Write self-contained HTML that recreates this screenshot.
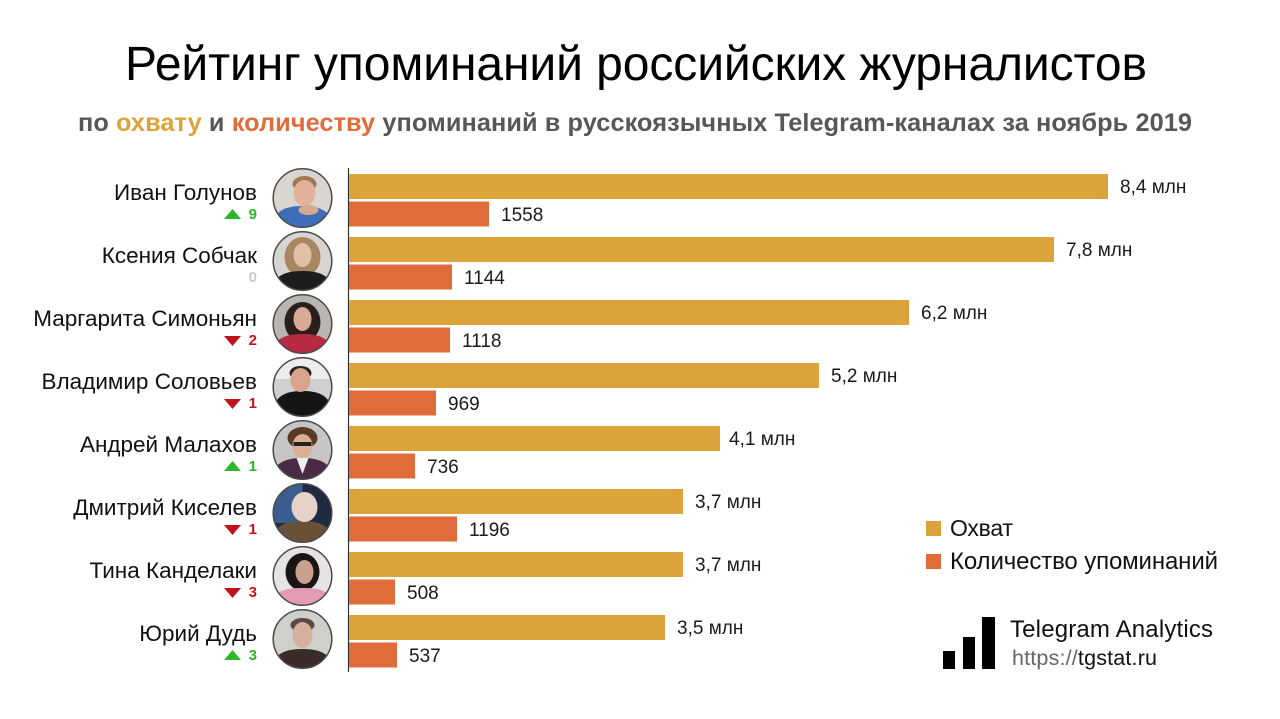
<!DOCTYPE html>
<html><head><meta charset="utf-8"><style>
html,body{margin:0;padding:0;background:#fff;}
svg{display:block;}
text{font-family:"Liberation Sans","DejaVu Sans",sans-serif;}
</style></head><body>
<svg width="1280" height="719" viewBox="0 0 1280 719" xmlns="http://www.w3.org/2000/svg">
<defs>
<clipPath id="cc"><circle cx="0" cy="0" r="29"/></clipPath>
</defs>
<rect width="1280" height="719" fill="#fff"/>

<text x="125" y="80" font-size="48" fill="#000" textLength="1022">Рейтинг упоминаний российских журналистов</text>
<text x="78" y="131" font-size="25.3" font-weight="bold" fill="#575757" textLength="1114">по <tspan fill="#DCA33B">охвату</tspan> и <tspan fill="#DF6C3A">количеству</tspan> упоминаний в русскоязычных Telegram-каналах за ноябрь 2019</text>

<line x1="348.5" y1="168" x2="348.5" y2="672" stroke="#333" stroke-width="1.2"/>

<!-- bars -->
<g fill="#DCA33B">
<rect x="349" y="174" width="759" height="25"/>
<rect x="349" y="237" width="705" height="25"/>
<rect x="349" y="300" width="560" height="25"/>
<rect x="349" y="363" width="470" height="25"/>
<rect x="349" y="426" width="371" height="25"/>
<rect x="349" y="489" width="334" height="25"/>
<rect x="349" y="552" width="334" height="25"/>
<rect x="349" y="615" width="316" height="25"/>
</g>
<g fill="#DF6C3A">
<rect x="349" y="201.5" width="140" height="25"/>
<rect x="349" y="264.5" width="103" height="25"/>
<rect x="349" y="327.5" width="101" height="25"/>
<rect x="349" y="390.5" width="87" height="25"/>
<rect x="349" y="453.5" width="66" height="25"/>
<rect x="349" y="516.5" width="108" height="25"/>
<rect x="349" y="579.5" width="46" height="25"/>
<rect x="349" y="642.5" width="48" height="25"/>
</g>

<g font-size="19" fill="#1a1a1a">
<text x="1120" y="193">8,4 млн</text>
<text x="1066" y="256">7,8 млн</text>
<text x="921" y="319">6,2 млн</text>
<text x="831" y="382">5,2 млн</text>
<text x="729" y="445">4,1 млн</text>
<text x="695" y="508">3,7 млн</text>
<text x="695" y="571">3,7 млн</text>
<text x="677" y="634">3,5 млн</text>
<text x="501" y="221">1558</text>
<text x="464" y="284">1144</text>
<text x="462" y="347">1118</text>
<text x="448" y="410">969</text>
<text x="427" y="473">736</text>
<text x="469" y="536">1196</text>
<text x="407" y="599">508</text>
<text x="409" y="662">537</text>
</g>

<!-- names -->
<g font-size="22.5" fill="#111" text-anchor="end">
<text x="257" y="200">Иван Голунов</text>
<text x="257" y="263">Ксения Собчак</text>
<text x="257" y="326">Маргарита Симоньян</text>
<text x="257" y="389">Владимир Соловьев</text>
<text x="257" y="452">Андрей Малахов</text>
<text x="257" y="515">Дмитрий Киселев</text>
<text x="257" y="578">Тина Канделаки</text>
<text x="257" y="641">Юрий Дудь</text>
</g>

<!-- change indicators -->
<g font-size="15" font-weight="bold" text-anchor="end">
<polygon points="224,219 241,219 232.5,209" fill="#2DB52D"/><text x="257" y="219" fill="#2DB52D">9</text>
<text x="257" y="282" fill="#c8c8c8">0</text>
<polygon points="224,336 241,336 232.5,346" fill="#C0141C"/><text x="257" y="345" fill="#C0141C">2</text>
<polygon points="224,399 241,399 232.5,409" fill="#C0141C"/><text x="257" y="408" fill="#C0141C">1</text>
<polygon points="224,471 241,471 232.5,461" fill="#2DB52D"/><text x="257" y="471" fill="#2DB52D">1</text>
<polygon points="224,525 241,525 232.5,535" fill="#C0141C"/><text x="257" y="534" fill="#C0141C">1</text>
<polygon points="224,588 241,588 232.5,598" fill="#C0141C"/><text x="257" y="597" fill="#C0141C">3</text>
<polygon points="224,660 241,660 232.5,650" fill="#2DB52D"/><text x="257" y="660" fill="#2DB52D">3</text>
</g>

<!-- photos -->
<g transform="translate(302.5,198)">
<g clip-path="url(#cc)">
<rect x="-30" y="-30" width="60" height="60" fill="#d9d6d2"/>
<path d="M-32,32 C-30,12 -16,8 0,8 C16,8 30,12 32,32 Z" fill="#3f6db8"/>
<ellipse cx="2" cy="-14" rx="12" ry="8" fill="#a07a55"/>
<ellipse cx="2" cy="-5" rx="11" ry="13" fill="#e0b39a"/>
<ellipse cx="6" cy="12" rx="10" ry="5" fill="#d8a88e"/>
</g>
<circle r="29.3" fill="none" stroke="#4a4a4a" stroke-width="1.5"/>
</g>

<g transform="translate(302.5,261)">
<g clip-path="url(#cc)">
<rect x="-30" y="-30" width="60" height="60" fill="#d8d5d0"/>
<ellipse cx="0" cy="-4" rx="18" ry="20" fill="#a88662"/>
<path d="M-32,32 C-30,14 -16,10 0,10 C16,10 30,14 32,32 Z" fill="#1e1c1c"/>
<ellipse cx="0" cy="-6" rx="9" ry="12" fill="#e3bfa6"/>
</g>
<circle r="29.3" fill="none" stroke="#4a4a4a" stroke-width="1.5"/>
</g>

<g transform="translate(302.5,324)">
<g clip-path="url(#cc)">
<rect x="-30" y="-30" width="60" height="60" fill="#b9b5b3"/>
<ellipse cx="0" cy="-2" rx="18" ry="20" fill="#2a1f1c"/>
<path d="M-32,32 C-30,14 -16,10 0,10 C16,10 30,14 32,32 Z" fill="#b82a42"/>
<ellipse cx="0" cy="-5" rx="9" ry="12" fill="#d8aa96"/>
</g>
<circle r="29.3" fill="none" stroke="#4a4a4a" stroke-width="1.5"/>
</g>

<g transform="translate(302.5,387)">
<g clip-path="url(#cc)">
<rect x="-30" y="-30" width="60" height="60" fill="#cfcfcf"/>
<rect x="-30" y="-30" width="60" height="22" fill="#ececec"/>
<path d="M-32,32 C-30,8 -16,4 0,4 C16,4 30,8 32,32 Z" fill="#151515"/>
<ellipse cx="-2" cy="-14" rx="11" ry="7" fill="#2b2420"/>
<ellipse cx="-2" cy="-7" rx="10" ry="12" fill="#d9a48a"/>
</g>
<circle r="29.3" fill="none" stroke="#4a4a4a" stroke-width="1.5"/>
</g>

<g transform="translate(302.5,450)">
<g clip-path="url(#cc)">
<rect x="-30" y="-30" width="60" height="60" fill="#c6c6c6"/>
<ellipse cx="0" cy="-12" rx="15" ry="11" fill="#5a3a24"/>
<path d="M-32,32 C-30,12 -16,8 0,8 C16,8 30,12 32,32 Z" fill="#4b2a46"/>
<path d="M-6,8 L0,24 L6,8 Z" fill="#eeeeee"/>
<ellipse cx="0" cy="-4" rx="10" ry="12" fill="#dcae92"/>
<rect x="-9" y="-8" width="18" height="4" fill="#222"/>
</g>
<circle r="29.3" fill="none" stroke="#4a4a4a" stroke-width="1.5"/>
</g>

<g transform="translate(302.5,513)">
<g clip-path="url(#cc)">
<rect x="-30" y="-30" width="60" height="60" fill="#1d2a40"/>
<rect x="-30" y="-30" width="30" height="40" fill="#3a5f8e"/>
<path d="M-32,32 C-30,12 -16,8 0,8 C16,8 30,12 32,32 Z" fill="#6a5038"/>
<ellipse cx="2" cy="-6" rx="13" ry="15" fill="#e6d2c6"/>
</g>
<circle r="29.3" fill="none" stroke="#4a4a4a" stroke-width="1.5"/>
</g>

<g transform="translate(302.5,576)">
<g clip-path="url(#cc)">
<rect x="-30" y="-30" width="60" height="60" fill="#e6e4e2"/>
<ellipse cx="0" cy="-4" rx="17" ry="19" fill="#1a1515"/>
<path d="M-32,32 C-30,14 -16,12 0,12 C16,12 30,14 32,32 Z" fill="#e49ab5"/>
<ellipse cx="2" cy="-4" rx="9" ry="12" fill="#caa08a"/>
</g>
<circle r="29.3" fill="none" stroke="#4a4a4a" stroke-width="1.5"/>
</g>

<g transform="translate(302.5,639)">
<g clip-path="url(#cc)">
<rect x="-30" y="-30" width="60" height="60" fill="#cfd0cc"/>
<path d="M-32,32 C-30,14 -16,10 0,10 C16,10 30,14 32,32 Z" fill="#3a2a28"/>
<ellipse cx="0" cy="-14" rx="12" ry="7" fill="#5a4a40"/>
<ellipse cx="0" cy="-4" rx="10" ry="13" fill="#d6b09c"/>
</g>
<circle r="29.3" fill="none" stroke="#4a4a4a" stroke-width="1.5"/>
</g>

<!-- legend -->
<rect x="926" y="521" width="15" height="15" fill="#DCA33B"/>
<text x="950" y="536" font-size="23" fill="#111" textLength="63">Охват</text>
<rect x="926" y="554" width="15" height="15" fill="#DF6C3A"/>
<text x="950" y="569" font-size="24" fill="#111" textLength="268">Количество упоминаний</text>

<!-- logo -->
<rect x="943" y="651" width="12" height="18" fill="#000"/>
<rect x="963" y="637" width="12" height="32" fill="#000"/>
<rect x="982" y="617" width="13" height="52" fill="#000"/>
<text x="1010" y="637" font-size="24" fill="#111" textLength="203">Telegram Analytics</text>
<text x="1012" y="665" font-size="21.5" fill="#666" textLength="145">https://<tspan fill="#111">tgstat.ru</tspan></text>
</svg>
</body></html>
